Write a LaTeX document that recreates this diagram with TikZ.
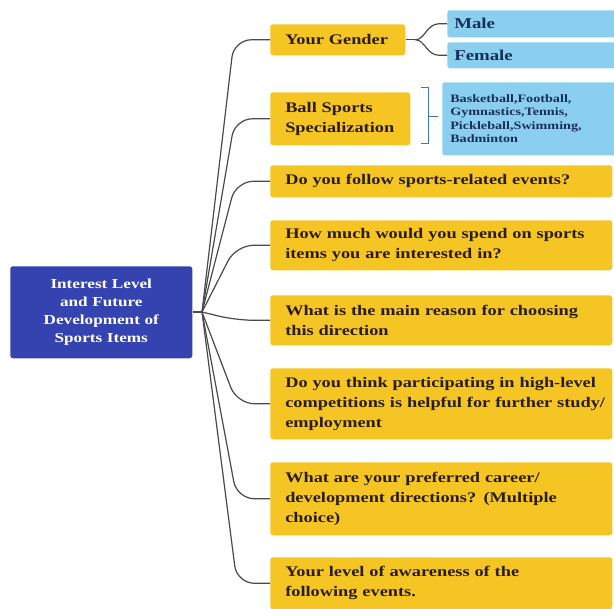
\documentclass[tikz,border=0pt]{standalone}
\usepackage{fontspec}
\setmainfont{Liberation Serif}[FakeStretch=1.25]
\usetikzlibrary{calc}
\definecolor{rootblue}{HTML}{3443B0}
\definecolor{qyellow}{HTML}{F5C623}
\definecolor{qtext}{HTML}{2B1D0E}
\definecolor{optblue}{HTML}{8ACFF0}
\definecolor{opttext}{HTML}{1B2E5A}
\definecolor{wire}{HTML}{4A4A4A}
\definecolor{brace}{HTML}{3A78C0}
% one unbreakable line of box text
\newcommand{\oneline}[1]{\mbox{#1}}
\begin{document}
\begin{tikzpicture}[x=0.75pt,y=-0.75pt,
  rootbox/.style={fill=rootblue, rounded corners=2pt, anchor=north west,
    inner sep=0pt, align=center, text=white,
    font=\bfseries\fontsize{10.3}{13.5}\selectfont},
  qbox/.style={fill=qyellow, rounded corners=2pt, anchor=north west,
    inner xsep=11.25pt, inner ysep=0pt, align=left, text=qtext,
    font=\bfseries\fontsize{11}{15}\selectfont},
  obox/.style={fill=optblue, rounded corners=2pt, anchor=north west,
    inner xsep=5.25pt, inner ysep=0pt, align=left, text=opttext,
    font=\bfseries\fontsize{11.3}{15}\selectfont},
  wirel/.style={draw=wire, line width=0.9pt, rounded corners=13pt},
  bracel/.style={draw=brace, line width=1pt}]
\useasboundingbox (0,0) rectangle (614,608);

% root topic
\node[rootbox, minimum width=136.5pt, minimum height=69pt, text width=120pt]
  (root) at (10,266) {Interest Level\\and Future\\Development of\\Sports Items};
\coordinate (hub) at (202,312);

% question branches
\node[qbox, text width=78.75pt, minimum height=23.25pt] (gender) at (270,24) {\oneline{Your Gender}};
\node[qbox, text width=82.5pt, minimum height=39.75pt] (ball) at (270,92) {\oneline{Ball Sports}\\\oneline{Specialization}};
\node[qbox, text width=234pt, minimum height=24pt] (q1) at (270,165) {\oneline{Do you follow sports-related events?}};
\node[qbox, text width=234pt, minimum height=37.5pt] (q2) at (270,220) {\oneline{How much would you spend on sports}\\\oneline{items you are interested in?}};
\node[qbox, text width=234pt, minimum height=37.5pt] (q3) at (270,295) {\oneline{What is the main reason for choosing}\\\oneline{this direction}};
\node[qbox, text width=234pt, minimum height=53.25pt] (q4) at (270,368) {\oneline{Do you think participating in high-level}\\\oneline{competitions is helpful for further study/}\\\oneline{employment}};
\node[qbox, text width=234pt, minimum height=54.75pt] (q5) at (270,462) {\oneline{What are your preferred career/}\\\oneline{development directions? (Multiple}\\\oneline{choice)}};
\node[qbox, text width=234pt, minimum height=39pt] (q6) at (270,557) {\oneline{Your level of awareness of the}\\\oneline{following events.}};

% answer options
\node[obox, text width=116.25pt, minimum height=20.25pt] (male) at (447,10) {Male};
\node[obox, text width=116.25pt, minimum height=19.5pt] (female) at (447,42) {Female};
\node[obox, inner xsep=6pt, text width=118.5pt, minimum height=54.75pt,
  font=\bfseries\fontsize{8.5}{10}\selectfont] (sports) at (442,82)
  {\oneline{Basketball,Football,}\\\oneline{Gymnastics,Tennis,}\\\oneline{Pickleball,Swimming,}\\\oneline{Badminton}};

% root to branches
\draw[wire, line width=0.9pt] (root.east |- hub) -- (hub);
\foreach \n/\cx in {gender/234, ball/235, q1/236, q2/236, q3/236, q4/237, q5/237, q6/237}
  \draw[wirel] (hub) -- (\cx, 0 |- \n.west) -- (\n.west);

% gender fork
\coordinate (gfork) at ($(gender.east)+(10,0)$);
\draw[wire, line width=0.9pt] (gender.east) -- (gfork);
\draw[wire, line width=0.9pt] (gfork) .. controls ($(gfork)+(9,0)$) and ($(male.west)+(-20,0)$) .. ($(male.west)+(-8,0)$) -- (male.west);
\draw[wire, line width=0.9pt] (gfork) .. controls ($(gfork)+(9,0)$) and ($(female.west)+(-20,0)$) .. ($(female.west)+(-8,0)$) -- (female.west);

% bracket to sports list
\draw[bracel] ($(ball.east)+(10,-31)$) -- ++(8,0) -- ++(0,56) -- ++(-8,0);
\draw[bracel] ($(ball.east)+(18,-2)$) -- ++(9,0);
\end{tikzpicture}
\end{document}
